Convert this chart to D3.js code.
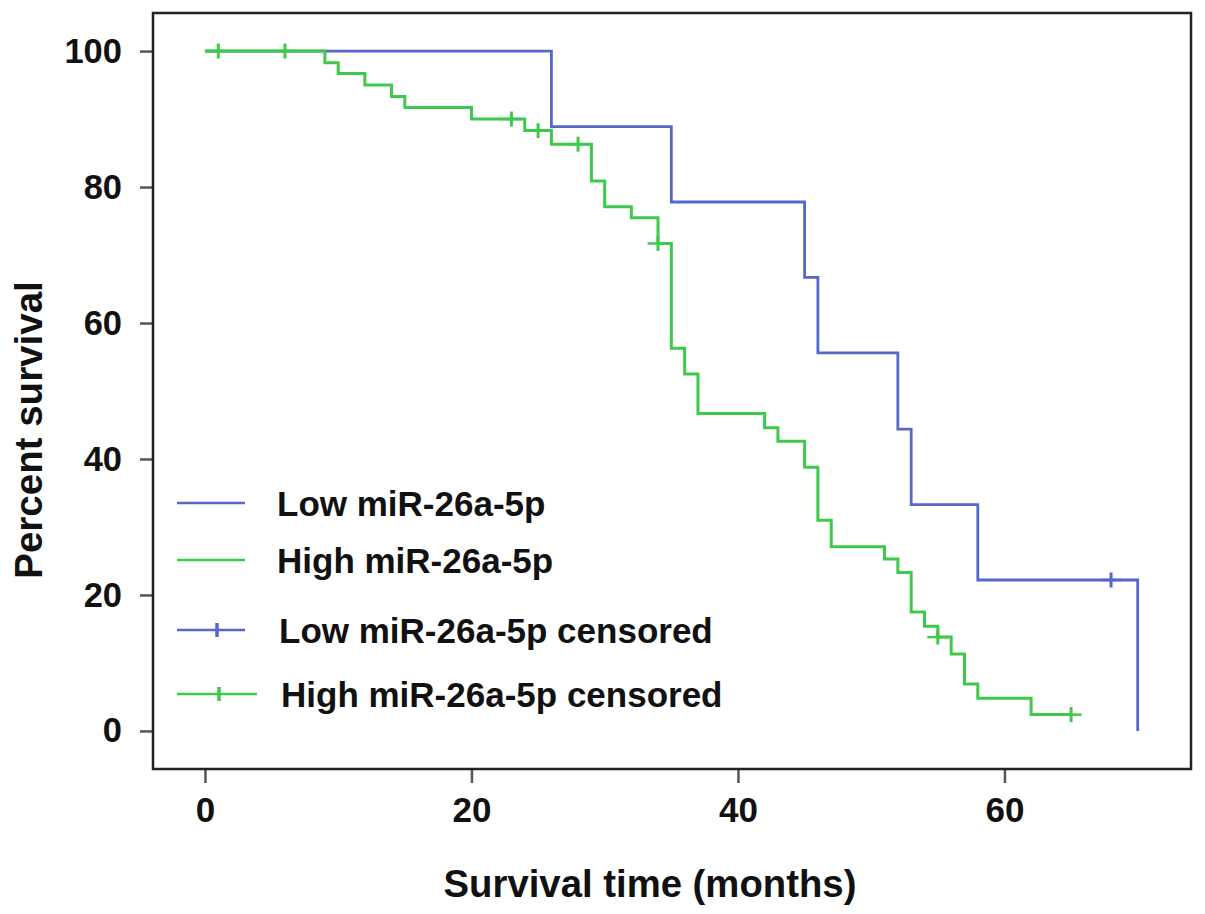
<!DOCTYPE html>
<html>
<head>
<meta charset="utf-8">
<script src="https://cdnjs.cloudflare.com/ajax/libs/d3/7.8.5/d3.min.js"></script>
<style>
  body { margin: 0; background: #fff; }
  text { font-family: "Liberation Sans", Arial, sans-serif; font-weight: bold; fill: #111; }
</style>
</head>
<body>
<script>
// Survival data
var lowTimes = [0, 26, 35, 45, 46, 52, 53, 58, 70];
var lowSurv = [100, 88.9, 77.8, 66.7, 55.6, 44.4, 33.3, 22.2, 0];
var lowCensored = [68];

var highTimes = [0, 9, 10, 12, 14, 15, 20, 24, 26, 29, 30, 32, 34, 35, 36, 37, 42, 43, 45, 46, 47, 51, 52, 53, 54, 55, 56, 57, 58, 62, 65];
var highSurv = [100, 98.3, 96.7, 95.0, 93.3, 91.7, 90.0, 88.3, 86.3, 80.9, 77.1, 75.5, 71.7, 56.3, 52.5, 46.7, 44.6, 42.6, 38.8, 31.0, 27.1, 25.3, 23.3, 17.5, 15.4, 13.8, 11.3, 6.9, 4.8, 2.4, 2.4];
var highCensored = [1, 6, 23, 25, 28, 34, 55, 65];

var xTicks = [0, 20, 40, 60];
var yTicks = [0, 20, 40, 60, 80, 100];

var legendLabels = ["Low miR-26a-5p", "High miR-26a-5p", "Low miR-26a-5p censored", "High miR-26a-5p censored"];

var blue = "#5567c9";
var green = "#3fc94b";

// Chart params
var svgWidth = 1205;
var svgHeight = 914;
var box = { left: 153, top: 13, right: 1191, bottom: 769 };

var svg = d3.select("body")
  .append("svg")
  .attr("width", svgWidth)
  .attr("height", svgHeight);

svg.append("rect")
  .attr("width", svgWidth)
  .attr("height", svgHeight)
  .attr("fill", "#fff");

var xScale = d3.scaleLinear()
  .domain([-3.9, 74.0])
  .range([box.left, box.right]);

var yScale = d3.scaleLinear()
  .domain([-5.6, 105.6])
  .range([box.bottom, box.top]);

// axes
var bottomAxis = d3.axisBottom(xScale).tickValues(xTicks).tickSize(14).tickPadding(14);
var leftAxis = d3.axisLeft(yScale).tickValues(yTicks).tickSize(13).tickPadding(18);

var xAxis = svg.append("g")
  .attr("transform", `translate(0, ${box.bottom})`)
  .call(bottomAxis);

var yAxis = svg.append("g")
  .attr("transform", `translate(${box.left}, 0)`)
  .call(leftAxis);

[xAxis, yAxis].forEach(function(ax) {
  ax.select(".domain").remove();
  ax.selectAll(".tick line").attr("stroke", "#555").attr("stroke-width", 2.5);
  ax.selectAll(".tick text").attr("font-size", 35).attr("fill", "#111");
});
yAxis.selectAll(".tick text").attr("font-size", 34.5);

// frame
svg.append("rect")
  .attr("x", box.left)
  .attr("y", box.top)
  .attr("width", box.right - box.left)
  .attr("height", box.bottom - box.top)
  .attr("fill", "none")
  .attr("stroke", "#222")
  .attr("stroke-width", 2.5);

// step curves
var lowData = lowTimes.map((t, i) => ({ t: t, s: lowSurv[i] }));
var highData = highTimes.map((t, i) => ({ t: t, s: highSurv[i] }));

var stepLine = d3.line()
  .x(d => xScale(d.t))
  .y(d => yScale(d.s))
  .curve(d3.curveStepAfter);

function survAt(data, t) {
  var s = data[0].s;
  data.forEach(function(d) { if (d.t <= t) s = d.s; });
  return s;
}

function drawCensor(g, data, times, color) {
  times.forEach(function(t) {
    var cx = xScale(t), cy = yScale(survAt(data, t));
    g.append("line").attr("x1", cx - 10.5).attr("x2", cx + 10.5).attr("y1", cy).attr("y2", cy)
      .attr("stroke", color).attr("stroke-width", 2.5);
    g.append("line").attr("x1", cx).attr("x2", cx).attr("y1", cy - 7.5).attr("y2", cy + 7.5)
      .attr("stroke", color).attr("stroke-width", 3);
  });
}

var plot = svg.append("g");

plot.append("path")
  .attr("d", stepLine(lowData))
  .attr("fill", "none")
  .attr("stroke", blue)
  .attr("stroke-width", 2.8);
drawCensor(plot, lowData, lowCensored, blue);

plot.append("path")
  .attr("d", stepLine(highData))
  .attr("fill", "none")
  .attr("stroke", green)
  .attr("stroke-width", 3);
drawCensor(plot, highData, highCensored, green);

// legend
var legendY = [503, 560, 630, 694];
var legendColors = [blue, green, blue, green];
var legend = svg.append("g");

legendLabels.forEach(function(label, i) {
  var y = legendY[i];
  var x2 = i === 3 ? 257 : 245;
  legend.append("line")
    .attr("x1", 177).attr("x2", x2).attr("y1", y).attr("y2", y)
    .attr("stroke", legendColors[i]).attr("stroke-width", 2.5);
  if (i >= 2) {
    var tx = i === 2 ? 217 : 219;
    legend.append("line")
      .attr("x1", tx).attr("x2", tx).attr("y1", y - 7).attr("y2", y + 7)
      .attr("stroke", legendColors[i]).attr("stroke-width", 3.5);
  }
  legend.append("text")
    .attr("x", i < 2 ? 277 : 279 + (i - 2) * 2)
    .attr("y", y)
    .attr("dy", "0.36em")
    .attr("font-size", 35)
    .text(label);
});

// axis titles
svg.append("text")
  .attr("x", 650)
  .attr("y", 883)
  .attr("dy", "0.36em")
  .attr("text-anchor", "middle")
  .attr("font-size", 38.3)
  .text("Survival time (months)");

svg.append("text")
  .attr("transform", "rotate(-90)")
  .attr("x", -430)
  .attr("y", 28)
  .attr("dy", "0.36em")
  .attr("text-anchor", "middle")
  .attr("font-size", 38.5)
  .text("Percent survival");
</script>
</body>
</html>
